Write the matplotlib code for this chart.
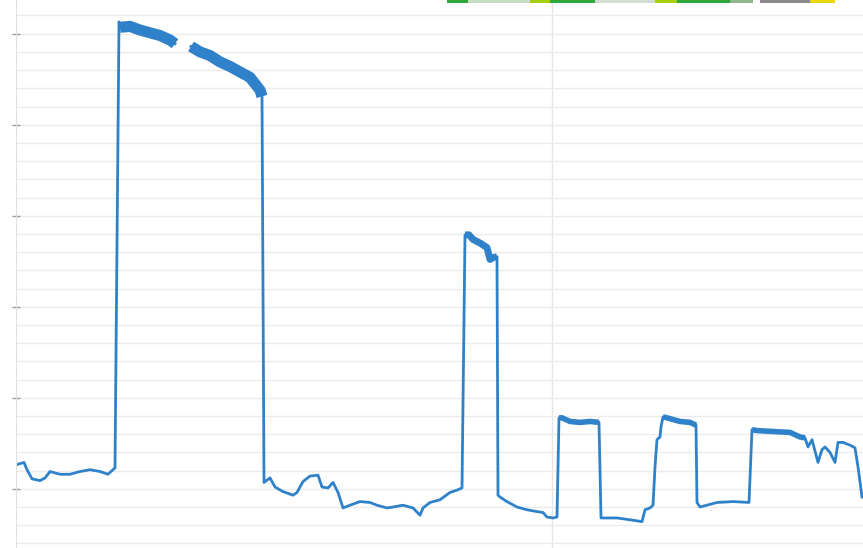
import numpy as np
import matplotlib.pyplot as plt
from matplotlib.patches import Rectangle

# recorded trace (sample index, reading); nan marks a dropout
t = [2, 8, 11, 16, 24, 29, 34, 44, 54, 64, 74, 84, 92, 97, 99,
     103, 104, 114, 124, 134, 144, 154, 159, 167,
     175, 184, 194, 204, 214, 224, 234, 239, 244, 246,
     248, 254, 259, 267, 277, 281, 287, 294, 302, 306, 312, 317, 322, 327,
     334, 344, 354, 361, 371, 377, 387, 397, 404, 407, 414, 424, 434, 442, 446,
     449, 453, 457, 464, 471, 474, 477, 481,
     482, 484, 491, 501, 511, 521, 527, 531, 537, 541,
     543, 546, 554, 564, 574, 583,
     585, 587, 601, 614, 626, 629, 634, 637, 639, 641, 644, 645,
     647, 651, 664, 674, 680,
     681, 684, 701, 717, 733,
     736, 741, 757, 774, 784, 789, 792, 796, 802, 806, 809, 814, 819,
     822, 827, 834, 839, 842, 846]
reading = [2.7, 2.9, 2.1, 1.1, 0.9, 1.2, 1.9, 1.6, 1.6, 1.9, 2.1, 1.9, 1.6, 2.1, 2.3,
           51.3, 50.7, 50.8, 50.4, 50.1, 49.8, 49.3, 48.9, np.nan,
           48.6, 48.0, 47.6, 46.9, 46.4, 45.8, 45.2, 44.5, 43.8, 43.1,
           0.7, 1.2, 0.2, -0.3, -0.7, -0.4, 0.8, 1.4, 1.5, 0.2, 0.1, 0.7, -0.4, -2.1,
           -1.8, -1.4, -1.5, -1.8, -2.1, -2.0, -1.8, -2.1, -2.9, -2.1, -1.5, -1.2, -0.4, -0.1, 0.1,
           27.9, 27.9, 27.4, 27.0, 26.5, 25.2, 25.4, 25.5,
           -0.7, -0.9, -1.4, -2.0, -2.3, -2.5, -2.6, -3.1, -3.2, -3.1,
           7.8, 7.8, 7.4, 7.3, 7.4, 7.3,
           -3.2, -3.2, -3.2, -3.4, -3.6, -2.3, -2.1, -1.8, 2.4, 5.4, 5.7, 6.8,
           7.9, 7.8, 7.4, 7.3, 7.0,
           -1.5, -2.0, -1.5, -1.4, -1.5,
           6.5, 6.4, 6.3, 6.2, 5.7, 5.6, 4.6, 5.4, 2.9, 4.3, 4.6, 4.0, 2.9,
           5.1, 5.1, 4.8, 4.5, 2.4, -0.9]

# plateaus where the signal is noisy (drawn as a thicker band)
noisy = [(104, 159, 8), (175, 246, 8), (449, 481, 5),
         (543, 583, 4), (647, 680, 4), (736, 789, 4)]

t = np.array(t, dtype=float)
reading = np.array(reading, dtype=float)
blue = '#2f82c9'

fig = plt.figure(figsize=(8.63, 5.48), dpi=100)
ax = fig.add_axes([16 / 863, 0, 1 - 16 / 863, 1])

ax.set_xlim(0, 847)
ax.set_ylim(-6.5, 53.7)

# faint ruled grid
ax.set_yticks(np.arange(0, 51, 10))
ax.set_yticks(np.arange(-6, 53, 2), minor=True)
ax.set_xticks([536])
ax.grid(which='both', axis='y', color='#ebebeb', lw=1)
ax.grid(which='major', axis='x', color='#e6e6e6', lw=1)
ax.set_axisbelow(True)
ax.tick_params(axis='y', which='major', direction='inout', length=6, width=1,
               color='#999999', labelleft=False)
ax.tick_params(axis='y', which='minor', length=0)
ax.tick_params(axis='x', length=0, labelbottom=False)
for side in ['top', 'right', 'bottom']:
    ax.spines[side].set_visible(False)
ax.spines['left'].set_color('#e0e0e0')

ax.plot(t, reading, color=blue, lw=2.0, solid_joinstyle='round')
for lo, hi, w in noisy:
    m = (t >= lo) & (t <= hi)
    ax.plot(t[m], reading[m], color=blue, lw=w, solid_capstyle='butt',
            solid_joinstyle='round')

# coloured strip along the top edge
strip = [(447, 468, '#2fa83a'), (468, 530, '#c9dcc4'), (530, 550, '#a6cf10'),
         (550, 595, '#2fa83a'), (595, 655, '#d3ddd0'), (655, 677, '#a6cf10'),
         (677, 730, '#2fa83a'), (730, 753, '#8fb88a'), (760, 810, '#8a8a8a'),
         (810, 835, '#e8d800')]
for x0, x1, c in strip:
    fig.add_artist(Rectangle((x0 / 863, 1 - 3 / 548), (x1 - x0) / 863, 3 / 548,
                             transform=fig.transFigure, color=c, lw=0))

fig.savefig('out.png', dpi=100)
